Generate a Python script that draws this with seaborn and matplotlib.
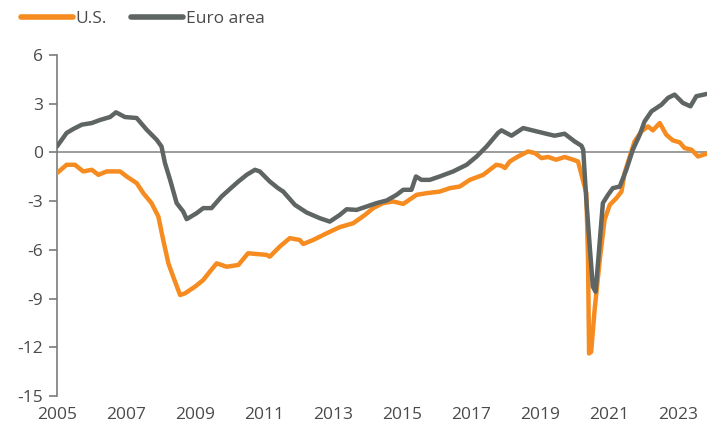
"""
Output gap style chart: U.S. vs Euro area, 2005-2023.
"""

import matplotlib

matplotlib.use("Agg")
import matplotlib.pyplot as plt
import pandas as pd
import seaborn as sns

# --- data (decimal years) ---
US_YEARS = [
    2005.00, 2005.28, 2005.52, 2005.76, 2006.01, 2006.20, 2006.44, 2006.83, 2007.02, 2007.31,
    2007.50, 2007.74, 2007.94, 2008.08, 2008.23, 2008.37, 2008.57, 2008.71, 2009.00, 2009.24,
    2009.43, 2009.63, 2009.92, 2010.26, 2010.54, 2011.08, 2011.17, 2011.46, 2011.75, 2012.04,
    2012.14, 2012.43, 2012.82, 2013.20, 2013.59, 2013.93, 2014.17, 2014.46, 2014.75, 2015.04,
    2015.43, 2015.72, 2016.10, 2016.39, 2016.68, 2016.97, 2017.36, 2017.74, 2017.89, 2017.99,
    2018.13, 2018.37, 2018.66, 2018.86, 2019.05, 2019.24, 2019.48, 2019.72, 2019.97, 2020.11,
    2020.35, 2020.40, 2020.43, 2020.49, 2020.59, 2020.74, 2020.88, 2021.03, 2021.22, 2021.37,
    2021.46, 2021.61, 2021.75, 2021.95, 2022.14, 2022.28, 2022.48, 2022.67, 2022.86, 2023.06,
    2023.20, 2023.40, 2023.59, 2023.84,
]
US_VALUES = [
    -1.27, -0.76, -0.76, -1.17, -1.07, -1.38, -1.17, -1.17, -1.48, -1.89,
    -2.50, -3.12, -3.95, -5.39, -6.83, -7.65, -8.78, -8.68, -8.27, -7.86,
    -7.35, -6.83, -7.04, -6.93, -6.21, -6.31, -6.42, -5.80, -5.28, -5.39,
    -5.64, -5.39, -4.98, -4.60, -4.36, -3.85, -3.43, -3.12, -3.02, -3.17,
    -2.61, -2.51, -2.41, -2.20, -2.10, -1.69, -1.38, -0.76, -0.82, -0.96,
    -0.56, -0.25, 0.06, -0.04, -0.35, -0.28, -0.45, -0.28, -0.45, -0.56,
    -2.50, -6.62, -12.38, -12.28, -9.71, -6.62, -4.15, -3.23, -2.82, -2.41,
    -1.27, -0.25, 0.68, 1.30, 1.60, 1.36, 1.81, 1.09, 0.74, 0.62,
    0.27, 0.17, -0.25, -0.08,
]

EURO_YEARS = [
    2005.00, 2005.28, 2005.47, 2005.72, 2006.01, 2006.25, 2006.54, 2006.71, 2006.97, 2007.31,
    2007.60, 2007.89, 2008.03, 2008.13, 2008.28, 2008.47, 2008.66, 2008.76, 2009.05, 2009.24,
    2009.48, 2009.77, 2010.01, 2010.26, 2010.50, 2010.74, 2010.88, 2011.17, 2011.41, 2011.56,
    2011.90, 2012.24, 2012.62, 2012.91, 2013.20, 2013.40, 2013.69, 2013.98, 2014.27, 2014.56,
    2014.85, 2015.04, 2015.28, 2015.41, 2015.57, 2015.81, 2016.10, 2016.49, 2016.88, 2017.17,
    2017.46, 2017.79, 2017.89, 2018.18, 2018.52, 2018.90, 2019.19, 2019.43, 2019.72, 2020.01,
    2020.21, 2020.26, 2020.35, 2020.45, 2020.54, 2020.62, 2020.72, 2020.83, 2020.98, 2021.12,
    2021.32, 2021.51, 2021.70, 2021.90, 2022.04, 2022.24, 2022.53, 2022.72, 2022.91, 2023.15,
    2023.37, 2023.54, 2023.84,
]
EURO_VALUES = [
    0.37, 1.20, 1.44, 1.71, 1.81, 2.00, 2.18, 2.47, 2.18, 2.12,
    1.40, 0.78, 0.37, -0.65, -1.69, -3.12, -3.64, -4.11, -3.74, -3.43,
    -3.43, -2.72, -2.26, -1.79, -1.38, -1.07, -1.17, -1.79, -2.20, -2.41,
    -3.23, -3.70, -4.05, -4.26, -3.85, -3.50, -3.54, -3.33, -3.12, -2.96,
    -2.61, -2.30, -2.30, -1.48, -1.69, -1.69, -1.48, -1.17, -0.76, -0.25,
    0.37, 1.20, 1.36, 1.03, 1.50, 1.30, 1.15, 1.03, 1.15, 0.68,
    0.41, 0.17, -2.92, -5.80, -8.27, -8.58, -6.00, -3.12, -2.61, -2.20,
    -2.10, -1.07, 0.17, 1.09, 1.91, 2.53, 2.94, 3.36, 3.56, 3.05,
    2.84, 3.46, 3.60,
]

SERIES = ["U.S.", "Euro area"]
COLORS = ["#F68B1F", "#5F6562"]
X_TICKS = list(range(2005, 2024, 2))
Y_TICKS = list(range(-15, 7, 3))

# ---------------------------------------------------------------------------

df = pd.concat(
    [
        pd.DataFrame({"year": US_YEARS, "value": US_VALUES, "series": SERIES[0]}),
        pd.DataFrame({"year": EURO_YEARS, "value": EURO_VALUES, "series": SERIES[1]}),
    ],
    ignore_index=True,
)

sns.set_style("white")
plt.rcParams["font.family"] = ["Open Sans", "DejaVu Sans"]
plt.rcParams["axes.unicode_minus"] = False

fig = plt.figure(figsize=(7.07, 4.32), dpi=100)
ax = fig.add_axes([57 / 707, 36 / 432, 650 / 707, 341 / 432])

ax.axhline(0, color="#8A8C8B", linewidth=1.2, zorder=1)

sns.lineplot(
    data=df,
    x="year",
    y="value",
    hue="series",
    hue_order=SERIES,
    palette=COLORS,
    estimator=None,
    sort=False,
    linewidth=3.2,
    ax=ax,
    zorder=3,
)

ax.set_xlim(2005.0, 2023.85)
ax.set_ylim(-15, 6)
ax.set_xticks(X_TICKS)
ax.set_yticks(Y_TICKS)
ax.set_xlabel("")
ax.set_ylabel("")

for side in ["top", "right", "bottom"]:
    ax.spines[side].set_visible(False)
ax.spines["left"].set_color("#7A7C7B")
ax.spines["left"].set_linewidth(1.2)

ax.tick_params(axis="y", direction="out", length=6, width=1.2, color="#7A7C7B",
               labelsize=12.5, labelcolor="#4A4A4A", pad=4, left=True)
ax.tick_params(axis="x", length=0, labelsize=12.5, labelcolor="#4A4A4A", pad=8)

ax.legend(
    loc="upper left",
    bbox_to_anchor=(-0.056, 1.13),
    ncol=2,
    frameon=False,
    fontsize=12.5,
    borderaxespad=0,
    borderpad=0,
    handlelength=3.0,
    handletextpad=0.15,
    columnspacing=1.4,
    labelcolor="#4A4A4A",
)
for line in ax.get_legend().get_lines():
    line.set_linewidth(4)
    line.set_solid_capstyle("round")

fig.savefig("out.png", dpi=100)
plt.close(fig)
